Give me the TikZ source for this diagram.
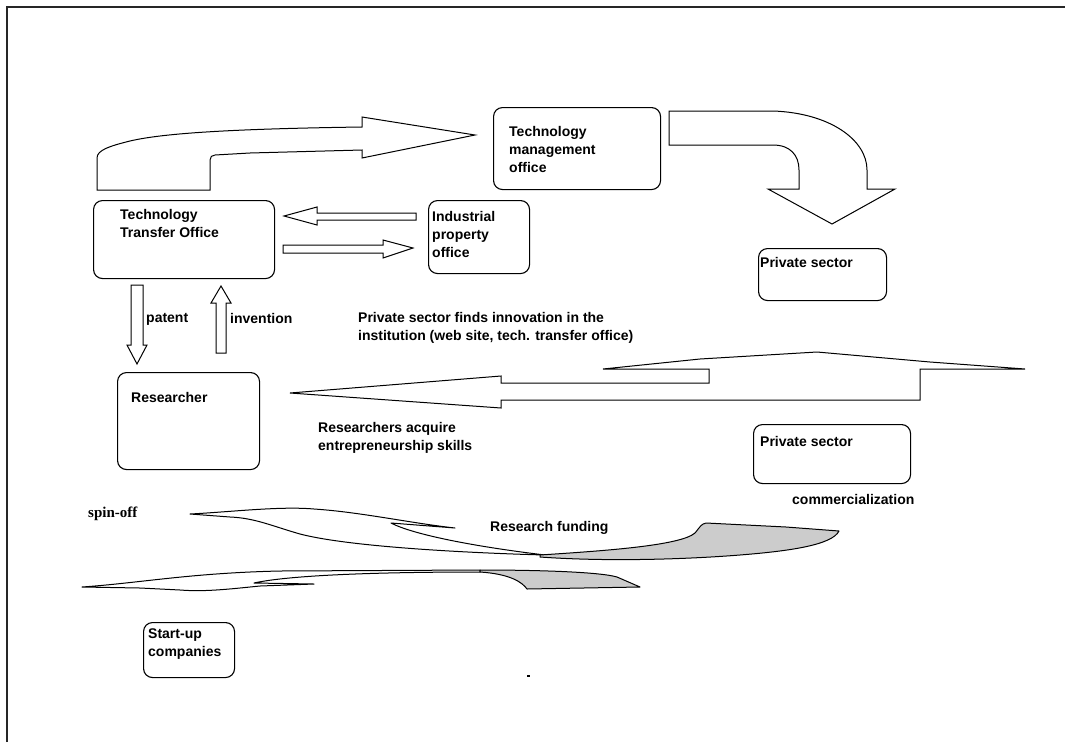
\documentclass[tikz,border=0pt]{standalone}
\usepackage{fontspec}
\setmainfont{Liberation Sans}
\newfontfamily\spinfont{Liberation Serif}
\definecolor{swgray}{RGB}{204,204,204}
\tikzset{
  box/.style={draw, line width=1.1pt, rounded corners=9pt, anchor=north west, inner sep=0pt},
  lbl/.style={font=\fontsize{14}{18}\selectfont\bfseries, inner sep=0pt, anchor=north west, align=left},
  blockarrow/.style={draw, line width=1pt, fill=white, line join=miter},
  swoosh/.style={draw, line width=1pt, line join=round},
}
\begin{document}
\begin{tikzpicture}[x=1pt,y=-1pt]
\useasboundingbox (0,0) rectangle (1065,742);
% frame
\draw[line width=2pt, black!85] (7,742) -- (7,7) -- (1065,7);

% boxes
\node[box, minimum width=167pt, minimum height=82pt] (tmo) at (493,107) {};
\node[box, minimum width=181pt, minimum height=78pt] (tto) at (93,200) {};
\node[box, minimum width=101pt, minimum height=73pt] (ipo) at (428,200) {};
\node[box, minimum width=128pt, minimum height=52pt] (ps1) at (758,248) {};
\node[box, minimum width=142pt, minimum height=97pt] (res) at (117,372) {};
\node[box, minimum width=157pt, minimum height=59pt] (ps2) at (753,424) {};
\node[box, minimum width=91pt, minimum height=55pt] (su) at (143,622) {};

% texts
\node[lbl] (tmot) at (509,126) {Technology\\management\\office};
\node[lbl] (ttot) at (120,209) {Technology\\Transfer Office};
\node[lbl] (ipot) at (432,211) {Industrial\\property\\office};
\node[lbl] (ps1t) at (760,257) {Private sector};
\node[lbl] (patt) at (146,313) {patent};
\node[lbl] (invt) at (230,313) {invention};
\node[lbl] (findt) at (358,312) {Private sector finds innovation in the\\institution (web site, tech. transfer office)};
\node[lbl] (rest) at (131,392) {Researcher};
\node[lbl] (acqt) at (318,422) {Researchers acquire\\entrepreneurship skills};
\node[lbl] (ps2t) at (760,436) {Private sector};
\node[lbl] (comt) at (792,494) {commercialization};
\node[lbl, font=\spinfont\fontsize{15}{18}\selectfont\bfseries] (spint) at (88,507) {spin-off};
\node[lbl] (fundt) at (490,521) {Research funding};
\node[lbl] (sut) at (148,629) {Start-up\\companies};

% big top arrow TTO -> TMO
\draw[blockarrow] (97,190) -- (97,158) .. controls (97,150) and (110,146) .. (130,141)
  .. controls (160,134) and (220,129) .. (362,127) -- (362,117) -- (475,135) -- (362,158)
  -- (362,150) -- (250,153) -- (215,155) .. controls (212,155) and (210,157) .. (210,160)
  -- (210,190) -- cycle;

% TMO -> private sector curved arrow
\draw[blockarrow] (669,111) -- (773,111) .. controls (830,113) and (867,140) .. (867,170)
  -- (867,189) -- (895,189) -- (832,224) -- (768,189) -- (799,189) -- (799,170)
  .. controls (799,155) and (790,145) .. (773,145) -- (669,145) -- cycle;

% IPO -> TTO
\draw[blockarrow] (416,213) -- (317,213) -- (317,207) -- (284,216) -- (317,225) -- (317,220) -- (416,220) -- cycle;
% TTO -> IPO
\draw[blockarrow] (283,245) -- (383,245) -- (383,240) -- (413,248) -- (383,258) -- (383,253) -- (283,253) -- cycle;

% patent (down)
\draw[blockarrow] (131,285) -- (143,285) -- (143,345) -- (147,345) -- (137,364) -- (127,345) -- (131,345) -- cycle;
% invention (up)
\draw[blockarrow] (216,353) -- (226,353) -- (226,303) -- (231,303) -- (221,286) -- (211,303) -- (216,303) -- cycle;

% big middle arrow (private sector -> researcher)
\draw[blockarrow] (290,393) -- (501,376) -- (501,383) -- (709,383) -- (709,369) -- (603,369)
  -- (700,359) -- (817,352) -- (930,362) -- (1025,369) -- (920,369) -- (920,400) -- (501,400)
  -- (501,408) -- cycle;

% upper swoosh (white part)
\draw[swoosh, fill=white] (190,514) .. controls (230,512) and (280,506) .. (314,509)
  .. controls (360,512) and (410,523) .. (455,528) -- (391,523)
  .. controls (412,534) and (470,546) .. (545,555)
  .. controls (470,553) and (350,547) .. (300,534)
  .. controls (272,526) and (255,518) .. (230,517) -- cycle;
% upper swoosh (gray part)
\draw[swoosh, fill=swgray] (540,555) .. controls (600,551) and (680,546) .. (695,533)
  .. controls (700,527) and (701,524) .. (706,523) -- (786,527) -- (839,531)
  .. controls (832,545) and (790,551) .. (740,555) .. controls (690,559) and (610,562) .. (540,557) -- cycle;

% lower swoosh (white part)
\draw[swoosh, fill=white] (82,587) .. controls (140,583) and (190,573) .. (280,571) -- (480,570)
  -- (480,572) .. controls (380,572) and (290,575) .. (254,583) -- (314,584)
  -- (260,586) .. controls (230,589) and (205,592) .. (180,590) -- (140,588) -- cycle;
% lower swoosh (gray part)
\draw[swoosh, fill=swgray] (480,570) .. controls (540,570) and (600,572) .. (617,577) -- (640,587)
  -- (527,589) .. controls (522,582) and (510,574) .. (480,572) -- cycle;

% small dot
\fill (527,675) rectangle (530,677);
\end{tikzpicture}
\end{document}
